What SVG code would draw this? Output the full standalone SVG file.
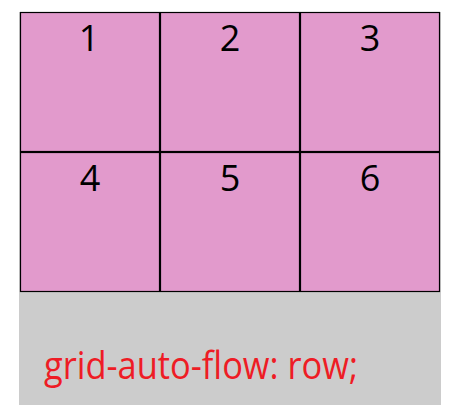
<svg xmlns="http://www.w3.org/2000/svg" width="469" height="405" viewBox="0 0 469 405">
<style>
.cell rect{fill:#e29acc;stroke:#000;stroke-width:1.2}
.cell text{font-family:"Open Sans","Noto Sans",sans-serif;font-size:36px;fill:#000;text-anchor:middle}
.lbl{font-family:"Open Sans","Noto Sans",sans-serif;font-size:38px;fill:#ee1c25}
</style>
<rect x="19" y="12" width="422" height="393" fill="#cccccc"/>
<g id="cell1" class="cell"><rect x="20.5" y="12.5" width="139" height="139"/><text x="89" y="51">1</text></g>
<g id="cell2" class="cell"><rect x="160.5" y="12.5" width="139" height="139"/><text x="230" y="51">2</text></g>
<g id="cell3" class="cell"><rect x="300.5" y="12.5" width="139" height="139"/><text x="370" y="51">3</text></g>
<g id="cell4" class="cell"><rect x="20.5" y="152.5" width="139" height="139"/><text x="90" y="191">4</text></g>
<g id="cell5" class="cell"><rect x="160.5" y="152.5" width="139" height="139"/><text x="230" y="191">5</text></g>
<g id="cell6" class="cell"><rect x="300.5" y="152.5" width="139" height="139"/><text x="370" y="191">6</text></g>
<g id="connectors"></g>
<text id="label" class="lbl" x="44" y="379" textLength="314" lengthAdjust="spacingAndGlyphs">grid-auto-flow: row;</text>
</svg>
